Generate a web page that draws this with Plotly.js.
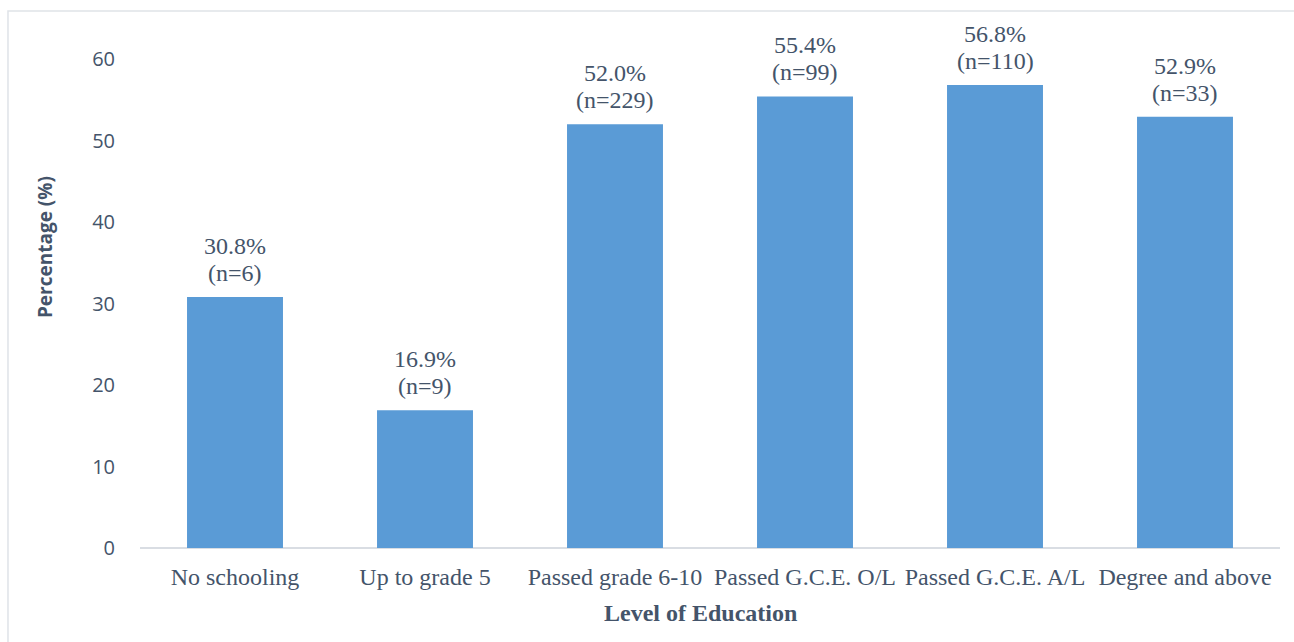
<!DOCTYPE html>
<html>
<head>
<meta charset="utf-8">
<script src="https://cdn.plot.ly/plotly-3.0.1.min.js"></script>
<style>html,body{margin:0;padding:0;background:#fff;}#chart{width:1294px;height:642px;}</style>
</head>
<body>
<div id="chart"></div>
<script>
const categories = ["No schooling", "Up to grade 5", "Passed grade 6-10", "Passed G.C.E. O/L", "Passed G.C.E. A/L", "Degree and above"];
const percentages = [30.8, 16.9, 52.0, 55.4, 56.8, 52.9];
const counts = [6, 9, 229, 99, 110, 33];
const yTicks = [0, 10, 20, 30, 40, 50, 60];
const xTitle = "Level of Education";
const yTitle = "Percentage (%)";

const textColor = "#44546A";
const serif = "Liberation Serif, Times New Roman, serif";
const sans = "Open Sans, sans-serif";

const trace = {
  type: "bar",
  x: categories,
  y: percentages,
  marker: {color: "#5A9BD6", line: {width: 0}},
  hoverinfo: "skip",
  showlegend: false
};

const annotations = [];
categories.forEach((c, i) => {
  annotations.push({
    x: c, y: percentages[i], xref: "x", yref: "y",
    text: percentages[i].toFixed(1) + "%", showarrow: false,
    yanchor: "middle", yshift: 51,
    font: {family: serif, size: 24, color: textColor}
  });
  annotations.push({
    x: c, y: percentages[i], xref: "x", yref: "y",
    text: "(n=" + counts[i] + ")", showarrow: false,
    yanchor: "middle", yshift: 24,
    font: {family: serif, size: 24, color: textColor}
  });
});
annotations.push({
  xref: "paper", yref: "paper", x: 0.492, y: -0.133,
  xanchor: "center", yanchor: "middle",
  text: "<b>" + xTitle + "</b>", showarrow: false,
  font: {family: serif, size: 24, color: textColor}
});
annotations.push({
  xref: "paper", yref: "paper", x: -0.0833, y: 0.6155,
  xanchor: "center", yanchor: "middle", textangle: -90,
  text: "<b>" + yTitle + "</b>", showarrow: false,
  font: {family: sans, size: 19, color: textColor}
});

const layout = {
  width: 1294, height: 642,
  margin: {l: 140, r: 14, t: 59, b: 94},
  paper_bgcolor: "#ffffff", plot_bgcolor: "#ffffff",
  bargap: 0.495,
  xaxis: {
    type: "category",
    showgrid: false, zeroline: false,
    showline: false,
    ticks: "",
    ticklabelstandoff: 12,
    tickfont: {family: serif, size: 24, color: textColor}
  },
  yaxis: {
    range: [0, 60],
    tickvals: yTicks,
    showgrid: false,
    zeroline: true, zerolinecolor: "#d9dde3", zerolinewidth: 2,
    showline: false, ticks: "",
    ticklabelstandoff: 24,
    tickfont: {family: sans, size: 20, color: textColor}
  },
  annotations: annotations,
  shapes: [{
    type: "rect", xref: "paper", yref: "paper",
    x0: -0.1158, x1: 1.02, y0: -0.25, y1: 1.098,
    line: {color: "#dfe3e8", width: 1.5}, fillcolor: "rgba(0,0,0,0)", layer: "below"
  }]
};

Plotly.newPlot("chart", [trace], layout, {displayModeBar: false, staticPlot: true});
</script>
</body>
</html>
